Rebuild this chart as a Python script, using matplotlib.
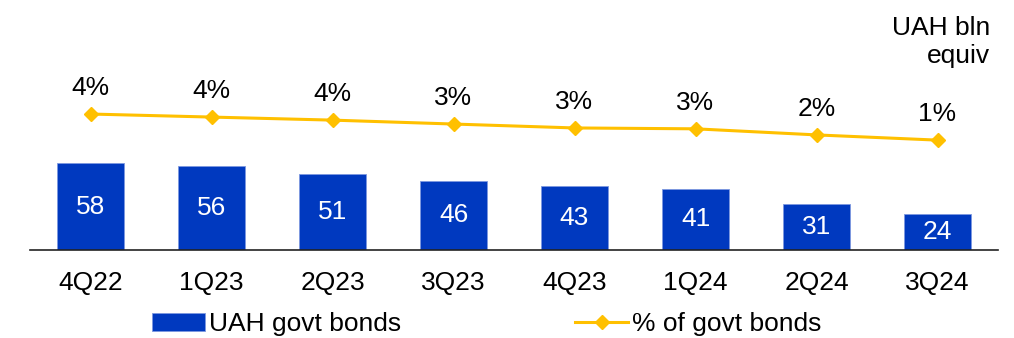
import matplotlib
matplotlib.use("Agg")
import matplotlib.pyplot as plt

plt.rcParams["font.family"] = ["Liberation Sans", "DejaVu Sans"]

quarters = ["4Q22", "1Q23", "2Q23", "3Q23", "4Q23", "1Q24", "2Q24", "3Q24"]
uah_bonds = [58, 56, 51, 46, 43, 41, 31, 24]
pct_govt = [4.4, 4.05, 3.7, 3.25, 2.8, 2.7, 2.0, 1.4]
pct_labels = ["4%", "4%", "4%", "3%", "3%", "3%", "2%", "1%"]

BLUE = "#0039BF"
GOLD = "#FFC000"
W, H = 1014, 338
FS = 19

fig = plt.figure(figsize=(W / 100, H / 100), dpi=100)
ax = fig.add_axes([30 / W, (H - 250) / H, 968 / W, 210 / H])
x = range(len(quarters))

bars = ax.bar(x, uah_bonds, width=0.555, color=BLUE, edgecolor="#7d98e0",
              linewidth=0.6, zorder=2)
ax.bar_label(bars, labels=[str(v) for v in uah_bonds], label_type="center",
             color="white", fontsize=FS)
ax.set_xlim(-0.5, len(quarters) - 0.5)
ax.set_ylim(0, 140)
ax.set_xticks(list(x))
ax.set_xticklabels(quarters, fontsize=FS)
ax.tick_params(axis="x", length=0, pad=15)
ax.set_yticks([])
for side in ["top", "right", "left"]:
    ax.spines[side].set_visible(False)
ax.spines["bottom"].set_color("#222222")
ax.spines["bottom"].set_linewidth(1.2)

ax2 = ax.twinx()
ax2.plot(x, pct_govt, color=GOLD, linewidth=2.2, marker="D", markersize=7,
         zorder=3)
for xi, v, lab in zip(x, pct_govt, pct_labels):
    ax2.annotate(lab, (xi, v), xytext=(0, 10), textcoords="offset points",
                 ha="center", va="bottom", fontsize=FS)
ax2.set_ylim(-11.23, 12.91)
ax2.set_yticks([])
ax2.axis("off")

fig.text(990 / W, 1 - 16 / H, "UAH bln\nequiv", ha="right", va="top",
         fontsize=FS, linespacing=1.2)

handles = [bars, ax2.lines[0]]
fig.legend(handles, ["UAH govt bonds", "% of govt bonds"], ncol=2,
           loc="center", bbox_to_anchor=(487 / W, 1 - 324 / H), frameon=False,
           fontsize=FS, handlelength=2.0, handletextpad=0.15,
           columnspacing=6.6, borderpad=0)

fig.savefig("out.png", dpi=100)
